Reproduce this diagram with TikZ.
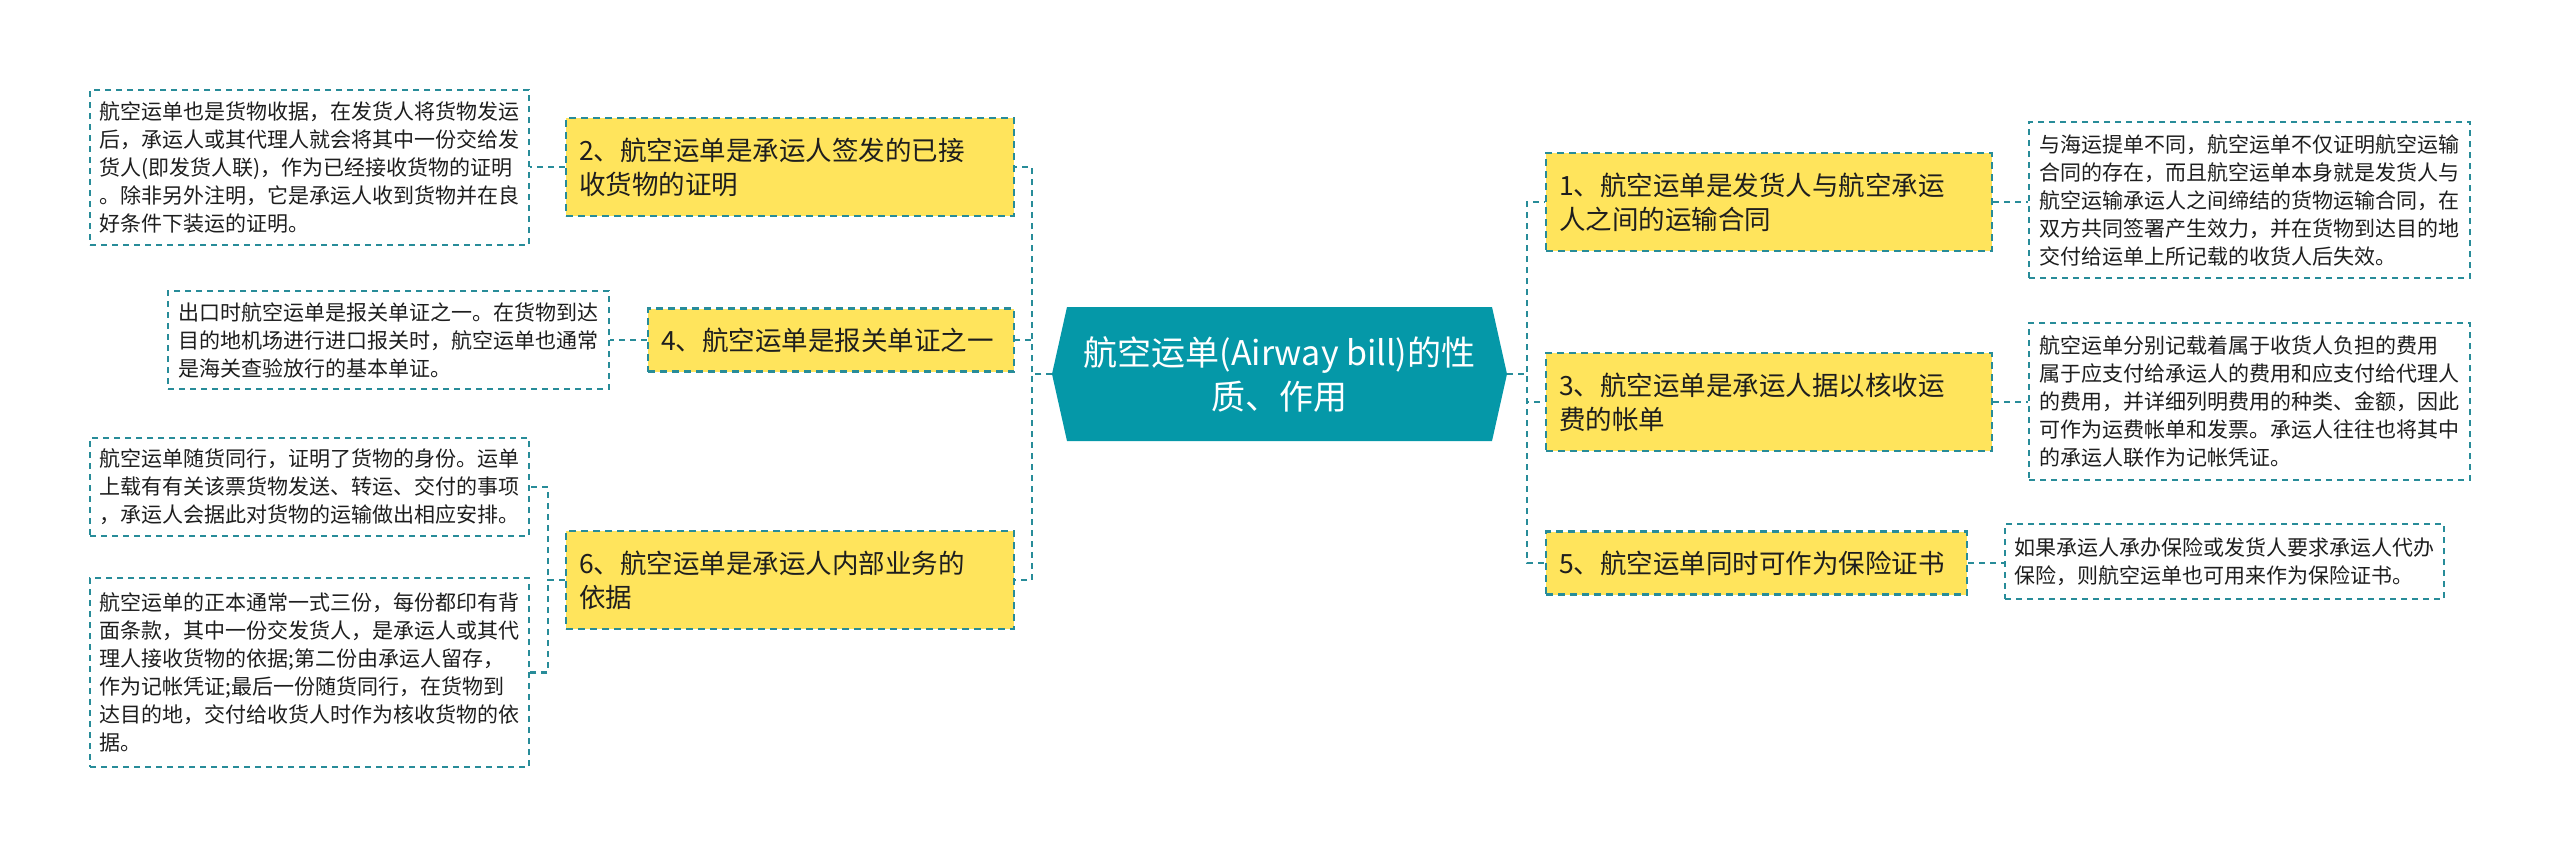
\documentclass[tikz,border=0pt]{standalone}
\usepackage{fontspec}
\setmainfont{Noto Sans CJK SC}
\definecolor{yel}{RGB}{255,228,92}
\definecolor{hex}{RGB}{5,152,168}
\definecolor{linec}{RGB}{40,140,153}
\definecolor{txt}{RGB}{30,30,30}
\tikzset{
  lvl/.style={draw=linec, fill=yel, dash pattern=on 7pt off 5pt, line width=2.4pt,
    inner xsep=13pt, inner ysep=0pt, align=left, text=txt,
    font=\fontsize{26.5}{34}\selectfont},
  tbox/.style={draw=linec, fill=white, dash pattern=on 6pt off 5pt, line width=2pt,
    inner sep=0pt, align=left, text=txt, font=\fontsize{21}{28}\selectfont},
  conn/.style={draw=linec, dash pattern=on 6pt off 5pt, line width=2.6pt},
  ctext/.style={text=white, align=center, inner sep=0pt,
    font=\fontsize{34}{44}\selectfont}
}
\begin{document}
\begin{tikzpicture}[x=1pt,y=-1pt]
\fill[white] (0,0) rectangle (2560,855);
\useasboundingbox (0,0) rectangle (2560,855);

% central hexagon
\coordinate (cW) at (1052,374);
\coordinate (cE) at (1507,374);
\fill[hex] (cW) -- (1067,307) -- (1492,307) -- (cE) -- (1492,441) -- (1067,441) -- cycle;
\node[ctext] (c) at (1279.5,374) {航空运单(Airway bill)的性\\质、作用};

% level-1 nodes
\node[lvl, text width=422pt, minimum height=98pt] (n2) at (790,167) {2、航空运单是承运人签发的已接\\收货物的证明};
\node[lvl, text width=340pt, minimum height=63pt] (n4) at (831,340) {4、航空运单是报关单证之一};
\node[lvl, text width=422pt, minimum height=98pt] (n6) at (790,580) {6、航空运单是承运人内部业务的\\依据};
\node[lvl, text width=420pt, minimum height=98pt] (n1) at (1769,202) {1、航空运单是发货人与航空承运\\人之间的运输合同};
\node[lvl, text width=420pt, minimum height=98pt] (n3) at (1769,402) {3、航空运单是承运人据以核收运\\费的帐单};
\node[lvl, text width=395pt, minimum height=63pt] (n5) at (1756.5,563) {5、航空运单同时可作为保险证书};

% text boxes
\node[tbox, minimum width=439pt, minimum height=155pt] (A) at (309.5,167.5) {航空运单也是货物收据，在发货人将货物发运\\后，承运人或其代理人就会将其中一份交给发\\货人(即发货人联)，作为已经接收货物的证明\\。除非另外注明，它是承运人收到货物并在良\\好条件下装运的证明。};
\node[tbox, minimum width=441pt, minimum height=98pt] (B) at (388.5,340) {出口时航空运单是报关单证之一。在货物到达\\目的地机场进行进口报关时，航空运单也通常\\是海关查验放行的基本单证。};
\node[tbox, minimum width=439pt, minimum height=98pt] (C) at (309.5,487) {航空运单随货同行，证明了货物的身份。运单\\上载有有关该票货物发送、转运、交付的事项\\，承运人会据此对货物的运输做出相应安排。};
\node[tbox, minimum width=439pt, minimum height=189pt] (D) at (309.5,672.5) {航空运单的正本通常一式三份，每份都印有背\\面条款，其中一份交发货人，是承运人或其代\\理人接收货物的依据;第二份由承运人留存，\\作为记帐凭证;最后一份随货同行，在货物到\\达目的地，交付给收货人时作为核收货物的依\\据。};
\node[tbox, minimum width=441pt, minimum height=156pt] (E) at (2249.5,200) {与海运提单不同，航空运单不仅证明航空运输\\合同的存在，而且航空运单本身就是发货人与\\航空运输承运人之间缔结的货物运输合同，在\\双方共同签署产生效力，并在货物到达目的地\\交付给运单上所记载的收货人后失效。};
\node[tbox, minimum width=441pt, minimum height=157pt] (F) at (2249.5,401.5) {航空运单分别记载着属于收货人负担的费用\\属于应支付给承运人的费用和应支付给代理人\\的费用，并详细列明费用的种类、金额，因此\\可作为运费帐单和发票。承运人往往也将其中\\的承运人联作为记帐凭证。};
\node[tbox, minimum width=439pt, minimum height=75pt] (G) at (2224.5,561.5) {如果承运人承办保险或发货人要求承运人代办\\保险，则航空运单也可用来作为保险证书。};

% connectors: center to level 1
\draw[conn] (cW) -- (1032,374) |- (n2.east);
\draw[conn] (cW) -- (1032,374) |- (n4.east);
\draw[conn] (cW) -- (1032,374) |- (n6.east);
\draw[conn] (cE) -- (1527,374) |- (n1.west);
\draw[conn] (cE) -- (1527,374) |- (n3.west);
\draw[conn] (cE) -- (1527,374) |- (n5.west);

% connectors: level 1 to text boxes
\draw[conn] (n2.west) -- (n2.west -| A.east);
\draw[conn] (n4.west) -- (n4.west -| B.east);
\draw[conn] (n6.west) -- (548,580) |- (C.east);
\draw[conn] (n6.west) -- (548,580) |- (D.east);
\draw[conn] (n1.east) -- (n1.east -| E.west);
\draw[conn] (n3.east) -- (n3.east -| F.west);
\draw[conn] (n5.east) -- (n5.east -| G.west);
\end{tikzpicture}
\end{document}
